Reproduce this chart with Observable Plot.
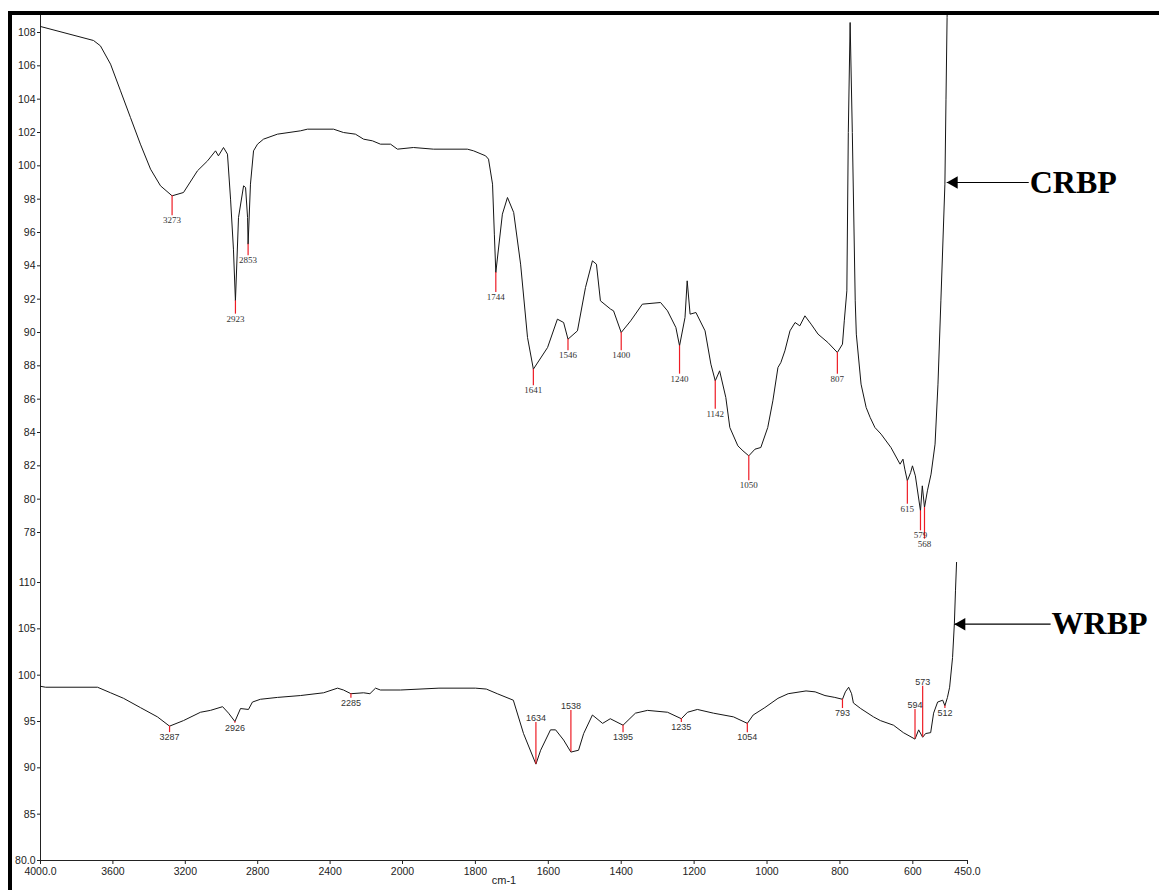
<!DOCTYPE html>
<html><head><meta charset="utf-8">
<script src="https://cdn.jsdelivr.net/npm/d3@7"></script>
<script src="https://cdn.jsdelivr.net/npm/@observablehq/plot@0.6"></script>
<style>
body{margin:0;background:#fff;}
#wrap{position:relative;width:1159px;height:890px;overflow:hidden;background:#fff;}
#frame{position:absolute;left:8px;top:11px;right:0;bottom:0;border-top:4px solid #000;border-left:4px solid #000;pointer-events:none;}
#top{position:absolute;left:0;top:0;}
#bot{position:absolute;left:0;top:562px;}
svg{overflow:visible;}
</style></head><body>
<div id="wrap"><div id="top"></div><div id="bot"></div><div id="frame"></div></div>
<script>
// ---- CRBP spectrum (upper panel) ----
const crbpWavenumber = [4000,3707,3669,3613,3558,3503,3448,3392,3337,3273,3210,3133,3077,3033,3017,2989,2967,2950,2934,2923,2906,2878,2867,2856,2853,2840,2823,2801,2768,2691,2564,2525,2381,2326,2260,2215,2166,2122,2066,2028,1970,1915,1822,1805,1772,1764,1753,1748,1744,1726,1712,1695,1676,1657,1641,1602,1575,1558,1546,1520,1498,1479,1468,1457,1429,1421,1400,1374,1342,1292,1273,1250,1240,1225,1219,1211,1195,1170,1154,1142,1130,1113,1102,1080,1066,1050,1033,1017,998,984,970,962,951,937,923,910,896,879,860,833,807,793,788,781,777,772,766,758,755,742,728,717,704,687,660,635,627,622,615,606,601,593,579,574,568,560,550,539,531,523,512,509,506,503];
const crbpTransmittance = [108.36,107.52,107.2,106.1,104.5,102.9,101.3,99.8,98.8,98.2,98.4,99.7,100.3,100.9,100.6,101.1,100.7,98.0,95.0,91.9,96.9,98.8,98.7,96.9,95.3,98.9,100.9,101.3,101.6,101.9,102.1,102.2,102.2,102.0,101.9,101.6,101.5,101.3,101.3,101.0,101.1,101.0,101.0,100.9,100.6,100.4,98.9,95.9,93.6,97.1,98.1,97.2,94.1,89.7,87.8,89.1,90.8,90.6,89.6,90.1,92.7,94.3,94.1,91.9,91.4,91.3,90.0,90.7,91.7,91.8,91.3,90.3,89.2,90.9,93.1,91.1,91.2,90.1,88.1,87.1,87.7,86.1,84.3,83.2,82.9,82.6,83.0,83.1,84.3,85.9,87.9,88.2,88.9,90.1,90.6,90.4,91.0,90.5,89.9,89.4,88.8,89.3,90.7,92.5,102.0,108.6,102.0,91.9,89.9,86.9,85.5,84.9,84.3,83.9,83.1,82.1,82.4,81.8,81.1,81.6,82.0,81.4,79.3,80.8,79.5,80.5,81.5,83.3,86.9,91.9,98.9,104.0,108.9,112.0];
const crbpPeakLabel = ["3273","2923","2853","1744","1641","1546","1400","1240","1142","1050","807","615","579","568"];
const crbpPeakFrom = [98.2,91.9,95.3,93.6,87.8,89.6,90.0,89.2,87.1,82.6,88.8,81.1,79.3,79.5];
const crbpPeakTo   = [97.0,91.1,94.6,92.4,86.8,88.9,88.9,87.5,85.4,81.1,87.5,79.7,78.1,77.6];

// ---- WRBP spectrum (lower panel) ----
const wrbpWavenumber = [4000,3972,3685,3613,3541,3448,3354,3287,3210,3116,3061,2994,2961,2926,2895,2851,2829,2785,2691,2564,2436,2359,2326,2285,2215,2180,2149,2122,2011,1900,1800,1770,1740,1696,1668,1634,1621,1594,1580,1558,1538,1517,1503,1479,1451,1430,1395,1361,1328,1273,1235,1218,1191,1147,1092,1054,1038,1006,970,942,893,868,841,814,793,785,776,768,763,743,708,689,653,626,594,584,573,565,551,543,532,518,512,505,499,491,486,483,480];
const wrbpTransmittance = [98.8,98.7,98.7,98.1,97.5,96.5,95.5,94.5,95.1,96.0,96.2,96.6,95.9,95.0,96.4,96.3,97.1,97.4,97.6,97.8,98.1,98.6,98.4,98.0,98.1,98.0,98.6,98.4,98.4,98.6,98.6,98.5,98.0,97.3,93.7,90.4,91.9,94.1,94.1,93.0,91.7,91.9,93.7,95.7,94.8,95.3,94.6,95.9,96.2,96.0,95.3,96.0,96.3,95.9,95.5,94.8,95.7,96.5,97.5,98.0,98.3,98.2,97.8,97.6,97.4,98.2,98.7,98.0,97.0,96.4,95.5,95.1,94.6,93.8,93.1,94.1,93.3,93.7,93.8,95.9,97.1,97.3,96.7,97.6,98.7,101.9,105.6,109.1,112.2];
const wrbpPeakLabel = ["3287","2926","2285","1634","1538","1395","1235","1054","793","594","573","512"];
const wrbpPeakFrom = [94.5,95.0,98.0,90.4,91.7,94.6,95.3,94.8,97.4,93.1,93.3,96.7];
const wrbpPeakTo   = [93.8,94.8,97.5,94.9,96.2,93.8,94.9,93.8,96.4,96.3,98.8,96.4];

// ---- axes ----
const xTicks = [4000,3600,3200,2800,2400,2000,1800,1600,1400,1200,1000,800,600,450];
const yTicksTop = [78,80,82,84,86,88,90,92,94,96,98,100,102,104,106,108];
const yTicksBottom = [80,85,90,95,100,105,110];
const seriesNames = ["CRBP","WRBP"];
// annotation arrows: tip on curve (wavenumber, value) and tail / label position
const annotTipW = [507,486];
const annotTailW = [282,222];
const annotValue = [99.0,105.5];

const crbp = crbpWavenumber.map((w,i)=>({w, t:crbpTransmittance[i]}));
const wrbp = wrbpWavenumber.map((w,i)=>({w, t:wrbpTransmittance[i]}));
const crbpPeaks = crbpPeakLabel.map((l,i)=>({label:l, w:+l, from:crbpPeakFrom[i], to:crbpPeakTo[i]}));
const wrbpPeaks = wrbpPeakLabel.map((l,i)=>({label:l, w:+l, from:wrbpPeakFrom[i], to:wrbpPeakTo[i]}));
const annots = seriesNames.map((n,i)=>({name:n, tip:annotTipW[i], tail:annotTailW[i], v:annotValue[i]}));

const xOpt = {type:"linear", domain:[4000,2000,450], range:[40,402,967]};
const RED = "#ee1c25";
const FONT = "Liberation Sans, Arial, sans-serif";

const topPlot = Plot.plot({
  width:1159, height:562, marginLeft:40, marginRight:192, marginTop:15, marginBottom:0,
  style:{background:"transparent", fontFamily:FONT, fontSize:"10.5px", color:"#222", overflow:"visible"},
  x:{...xOpt, axis:null},
  y:{domain:[76.2,109.02], range:[562,15]},
  marks:[
    Plot.axisY({ticks:yTicksTop, tickSize:3, tickPadding:2, tickFormat:d=>String(d), label:null, fontSize:10.5, stroke:"#222"}),
    Plot.ruleX([4000], {stroke:"#222", strokeWidth:1}),
    Plot.line(crbp, {x:"w", y:"t", stroke:"#151515", strokeWidth:1, clip:true}),
    Plot.ruleX(crbpPeaks, {x:"w", y1:"from", y2:"to", stroke:RED, strokeWidth:1.2}),
    Plot.text(crbpPeaks, {x:"w", y:"to", text:"label", lineAnchor:"top", dy:1, fontSize:9, fill:"#333", fontFamily:"Liberation Serif, Times New Roman, serif"}),
    Plot.link(annots.slice(0,1), {x1:"tail", x2:"tip", y1:"v", y2:"v", stroke:"#000", strokeWidth:1.2}),
    Plot.dot(annots.slice(0,1), {x:"tip", y:"v", symbol:"triangle", r:4.7, rotate:-90, dx:7.3, fill:"#000", stroke:"none"}),
    Plot.text(annots.slice(0,1), {x:"tail", y:"v", text:"name", textAnchor:"start", dx:1, fontSize:32, fontWeight:"bold", fill:"#000", fontFamily:"Liberation Serif, Times New Roman, serif"})
  ]
});
document.getElementById("top").appendChild(topPlot);

const botPlot = Plot.plot({
  width:1159, height:328, marginLeft:40, marginRight:192, marginTop:0, marginBottom:30,
  style:{background:"transparent", fontFamily:FONT, fontSize:"10.5px", color:"#222", overflow:"visible"},
  x:{...xOpt},
  y:{domain:[80,112.16], range:[298,0]},
  marks:[
    Plot.axisY({ticks:yTicksBottom, tickSize:3, tickPadding:2, tickFormat:d=>d===80?"80.0":String(d), label:null, fontSize:10.5, stroke:"#222"}),
    Plot.axisX({ticks:xTicks, tickSize:4, tickPadding:3, tickFormat:d=>(d===4000||d===450)?d.toFixed(1):String(d), label:null, fontSize:10.5, stroke:"#222"}),
    Plot.ruleX([4000], {stroke:"#222", strokeWidth:1}),
    Plot.ruleY([80], {stroke:"#222", strokeWidth:1}),
    Plot.text(["cm-1"], {frameAnchor:"bottom", lineAnchor:"top", dy:16, fontSize:11, fill:"#222"}),
    Plot.line(wrbp, {x:"w", y:"t", stroke:"#151515", strokeWidth:1, clip:true}),
    Plot.ruleX(wrbpPeaks, {x:"w", y1:"from", y2:"to", stroke:RED, strokeWidth:1.2}),
    Plot.text(wrbpPeaks.filter(d=>d.to<d.from), {x:"w", y:"to", text:"label", lineAnchor:"top", dy:1, fontSize:9, fill:"#333"}),
    Plot.text(wrbpPeaks.filter(d=>d.to>d.from), {x:"w", y:"to", text:"label", lineAnchor:"bottom", dy:-1, fontSize:9, fill:"#333"}),
    Plot.link(annots.slice(1), {x1:"tail", x2:"tip", y1:"v", y2:"v", stroke:"#000", strokeWidth:1.2}),
    Plot.dot(annots.slice(1), {x:"tip", y:"v", symbol:"triangle", r:4.7, rotate:-90, dx:7.3, fill:"#000", stroke:"none"}),
    Plot.text(annots.slice(1), {x:"tail", y:"v", text:"name", textAnchor:"start", dx:1, fontSize:32, fontWeight:"bold", fill:"#000", fontFamily:"Liberation Serif, Times New Roman, serif"})
  ]
});
document.getElementById("bot").appendChild(botPlot);
</script>
</body></html>
